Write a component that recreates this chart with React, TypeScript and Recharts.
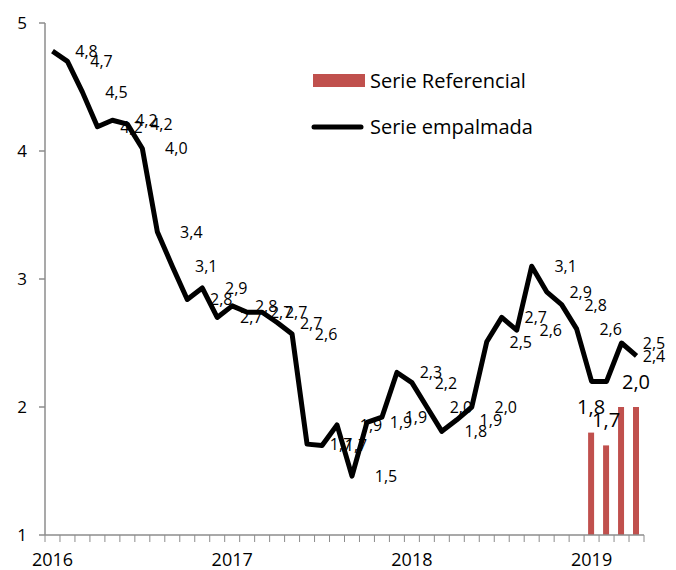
import React from 'react';
import { ComposedChart, Line, Bar, XAxis, YAxis, Legend, LabelList } from 'recharts';

const FONT = "'Open Sans', 'Noto Sans', sans-serif";
const AXIS_GRAY = '#8c8c8c';

// 40 monthly categories: Jan 2016 .. Apr 2019
const months: string[] = [
  '2016-01', '2016-02', '2016-03', '2016-04', '2016-05', '2016-06', '2016-07', '2016-08', '2016-09', '2016-10', '2016-11', '2016-12',
  '2017-01', '2017-02', '2017-03', '2017-04', '2017-05', '2017-06', '2017-07', '2017-08', '2017-09', '2017-10', '2017-11', '2017-12',
  '2018-01', '2018-02', '2018-03', '2018-04', '2018-05', '2018-06', '2018-07', '2018-08', '2018-09', '2018-10', '2018-11', '2018-12',
  '2019-01', '2019-02', '2019-03', '2019-04',
];

const serieEmpalmada: number[] = [
  4.78, 4.70, 4.46, 4.19, 4.24, 4.21, 4.02, 3.37, 3.10, 2.84, 2.93, 2.70,
  2.79, 2.74, 2.74, 2.66, 2.57, 1.71, 1.70, 1.86, 1.46, 1.88, 1.92, 2.27,
  2.19, 2.00, 1.81, 1.90, 2.00, 2.51, 2.70, 2.60, 3.10, 2.90, 2.80, 2.61,
  2.20, 2.20, 2.50, 2.40,
];

const serieReferencial: (number | null)[] = [
  null, null, null, null, null, null, null, null, null, null, null, null,
  null, null, null, null, null, null, null, null, null, null, null, null,
  null, null, null, null, null, null, null, null, null, null, null, null,
  1.8, 1.7, 2.0, 2.0,
];

const yearLabels: string[] = ['2016', '2017', '2018', '2019'];
const yTicks: number[] = [1, 2, 3, 4, 5];

// data labels that the reference does not show
const hiddenLineLabels: string[] = ['2019-01', '2019-02'];
const hiddenBarLabels: string[] = ['2019-03'];

const fmt = (v: number | null) => (v == null ? null : v.toFixed(1).replace('.', ','));

const data = months.map((m, i) => ({
  month: m,
  pos: i + 0.5,
  empalmada: serieEmpalmada[i],
  referencial: serieReferencial[i],
  empLabel: hiddenLineLabels.includes(m) ? null : fmt(serieEmpalmada[i]),
  refLabel: hiddenBarLabels.includes(m) ? null : fmt(serieReferencial[i]),
}));

const yearPositions = yearLabels.map((y) => months.indexOf(y + '-01') + 0.5);
const xTicks: number[] = [
  ...Array.from({ length: months.length + 1 }, (_, i) => i),
  ...yearPositions,
];

const XTick = (props: any) => {
  const { x, y, payload } = props;
  const v = payload.value as number;
  if (Number.isInteger(v)) {
    return <line x1={x} y1={y} x2={x} y2={y + 7} stroke={AXIS_GRAY} strokeWidth={1} />;
  }
  const k = yearPositions.indexOf(v);
  return (
    <text x={x} y={y + 31} textAnchor="middle" fontSize={18} fontFamily={FONT} fill="#000">
      {yearLabels[k]}
    </text>
  );
};

const LineLabel = (props: any) => {
  const { x, y, value } = props;
  if (value == null) return null;
  const cx = Math.min(x + 34, 654);
  return (
    <text x={cx} y={y} textAnchor="middle" dominantBaseline="central" fontSize={16} fontFamily={FONT} fill="#000">
      {value}
    </text>
  );
};

const BarLabel = (props: any) => {
  const { x, y, width, value } = props;
  if (value == null) return null;
  return (
    <text x={x + width / 2} y={y - 26} textAnchor="middle" dominantBaseline="central" fontSize={20} fontFamily={FONT} fill="#000">
      {value}
    </text>
  );
};

const renderLegend = (props: any) => {
  const items: any[] = props.payload || [];
  const bar = items.find((p) => p.dataKey === 'referencial');
  const line = items.find((p) => p.dataKey === 'empalmada');
  return (
    <svg width={260} height={90} style={{ display: 'block' }}>
      <rect x={3} y={14} width={52} height={13} fill={bar ? bar.color : '#C0504D'} />
      <text x={60} y={27.5} fontSize={20} fontFamily={FONT} fill="#000">
        {bar ? bar.value : 'Serie Referencial'}
      </text>
      <line x1={4} y1={67} x2={51} y2={67} stroke={line ? line.color : '#000'} strokeWidth={5} strokeLinecap="round" />
      <text x={60} y={74} fontSize={20} fontFamily={FONT} fill="#000">
        {line ? line.value : 'Serie empalmada'}
      </text>
    </svg>
  );
};

export default function App() {
  return (
    <div style={{ position: 'absolute', left: 0, top: 0, width: 676, height: 570, background: '#fff' }}>
      <ComposedChart width={676} height={570} data={data} margin={{ top: 23, right: 32, left: 0, bottom: 0 }}>
        <XAxis
          dataKey="pos"
          type="number"
          domain={[0, months.length]}
          ticks={xTicks}
          interval={0}
          tick={<XTick />}
          tickLine={false}
          tickSize={0}
          tickMargin={0}
          axisLine={{ stroke: AXIS_GRAY, strokeWidth: 1.5 }}
          height={35}
          allowDataOverflow
        />
        <YAxis
          type="number"
          domain={[1, 5]}
          ticks={yTicks}
          interval={0}
          width={45}
          tickSize={6}
          tickMargin={12}
          tick={{ fill: '#000', fontSize: 17, fontFamily: FONT }}
          tickLine={{ stroke: AXIS_GRAY, strokeWidth: 1.5 }}
          axisLine={{ stroke: AXIS_GRAY, strokeWidth: 1.5 }}
          allowDataOverflow
        />
        <Legend
          layout="vertical"
          align="center"
          verticalAlign="middle"
          content={renderLegend}
          wrapperStyle={{ left: 310, top: 60, width: 260, height: 90 }}
        />
        <Bar dataKey="referencial" name="Serie Referencial" fill="#C0504D" barSize={6} isAnimationActive={false}>
          <LabelList dataKey="refLabel" content={<BarLabel />} />
        </Bar>
        <Line
          dataKey="empalmada"
          name="Serie empalmada"
          type="linear"
          stroke="#000"
          strokeWidth={5}
          strokeLinejoin="round"
          dot={false}
          activeDot={false}
          isAnimationActive={false}
        >
          <LabelList dataKey="empLabel" content={<LineLabel />} />
        </Line>
      </ComposedChart>
    </div>
  );
}
